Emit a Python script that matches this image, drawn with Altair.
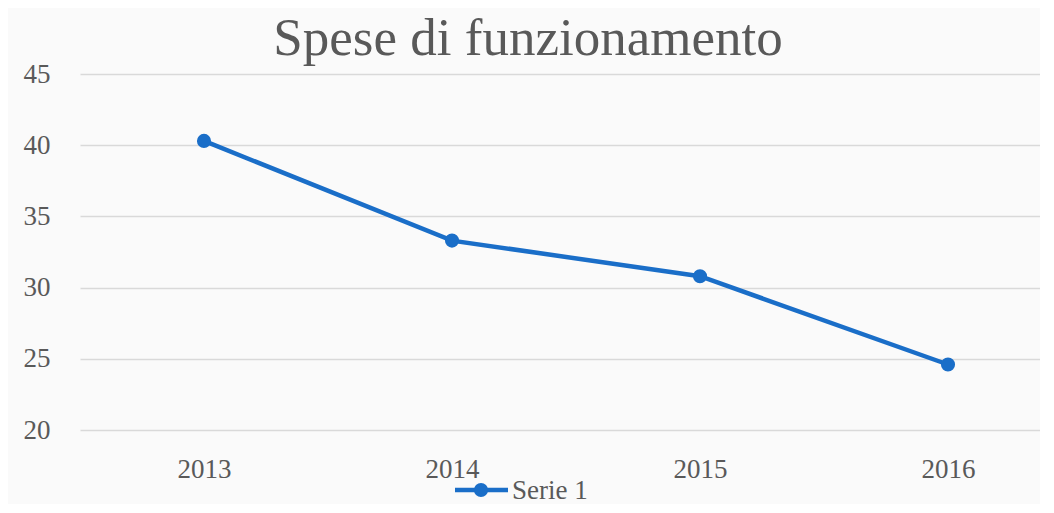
import altair as alt
import pandas as pd

title_text = ["Spese di funzionamento"]
years = [2013, 2014, 2015, 2016]
values = [40.3, 33.3, 30.8, 24.6]
series = ["Serie 1", "Serie 1", "Serie 1", "Serie 1"]
legend_names = ["Serie 1"]
y_ticks = [20, 25, 30, 35, 40, 45]

df = pd.DataFrame({"Anno": years, "Valore": values, "Serie": series})
legend_df = pd.DataFrame({"Serie": legend_names})
title_df = pd.DataFrame({"Titolo": title_text})

FONT = "Liberation Serif"
GREY = "#595959"
BLUE = "#1a6ec8"

x = alt.X("Anno:Q",
          scale=alt.Scale(domain=[2012.5, 2016.371], nice=False, zero=False),
          axis=alt.Axis(values=years, format="d", title=None, grid=False, domain=False,
                        ticks=False, labelFont=FONT, labelFontSize=27, labelColor=GREY,
                        labelPadding=26))
y = alt.Y("Valore:Q",
          scale=alt.Scale(domain=[20, 45], nice=False, zero=False),
          axis=alt.Axis(values=y_ticks, title=None, grid=True, gridColor="#d9d9d9",
                        gridWidth=1.5, domain=False, ticks=False, labelFont=FONT,
                        labelFontSize=27, labelColor=GREY, labelPadding=30))
color = alt.Color("Serie:N", scale=alt.Scale(range=[BLUE]), legend=None)

line = alt.Chart(df).mark_line(
    strokeWidth=4.5,
    point=alt.OverlayMarkDef(size=200, filled=True, opacity=1)
).encode(x=x, y=y, color=color)

title = alt.Chart(title_df).mark_text(
    align="center", baseline="alphabetic", font=FONT, fontSize=53, color=GREY).encode(
    x=alt.value(448), y=alt.value(-19), text="Titolo:N")

LY = 416
leg_rule = alt.Chart(legend_df).mark_rule(color=BLUE, strokeWidth=4.5).encode(
    x=alt.value(375), x2=alt.value(428), y=alt.value(LY))
leg_dot = alt.Chart(legend_df).mark_point(filled=True, size=200, opacity=1, color=BLUE).encode(
    x=alt.value(401), y=alt.value(LY))
leg_txt = alt.Chart(legend_df).mark_text(
    align="left", baseline="middle", font=FONT, fontSize=27, color=GREY).encode(
    x=alt.value(432), y=alt.value(LY + 1), text="Serie:N")

chart = alt.layer(line, title, leg_rule, leg_dot, leg_txt).properties(
    width=960, height=356,
    autosize=alt.AutoSizeParams(type="none"),
    padding={"left": 72, "top": 66, "right": 0, "bottom": 74},
    background="#fafafa"
).configure_view(stroke=None)

chart.save("out.html", embed_options={"renderer": "svg", "actions": False})
